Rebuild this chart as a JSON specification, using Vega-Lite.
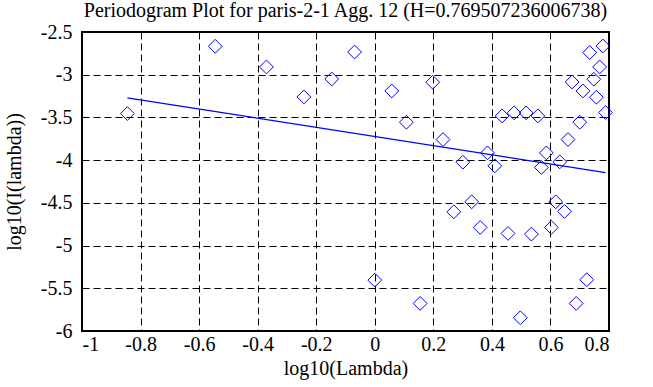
{
  "$schema": "https://vega.github.io/schema/vega-lite/v6.json",
  "width": 527,
  "height": 299,
  "autosize": {"type": "none"},
  "padding": {"left": 82, "top": 32, "right": 44, "bottom": 56},
  "background": "white",
  "title": {
    "text": "Periodogram Plot for paris-2-1 Agg. 12 (H=0.769507236006738)",
    "font": "Liberation Serif",
    "fontSize": 20,
    "fontWeight": "normal",
    "color": "black",
    "offset": 1,
    "anchor": "middle"
  },
  "config": {
    "view": {"stroke": "black", "strokeWidth": 2},
    "axis": {
      "labelFont": "Liberation Serif",
      "labelFontSize": 20,
      "labelColor": "black",
      "titleFont": "Liberation Serif",
      "titleFontSize": 20,
      "titleFontWeight": "normal",
      "titleColor": "black",
      "domain": false,
      "ticks": false,
      "grid": true,
      "gridColor": "black",
      "gridDash": [7, 4],
      "gridWidth": 1,
      "gridOpacity": 1
    }
  },
  "datasets": {
    "points": [
      {"x": -0.845, "y": -3.455},
      {"x": -0.545, "y": -2.667},
      {"x": -0.370, "y": -2.909},
      {"x": -0.242, "y": -3.26},
      {"x": -0.147, "y": -3.05},
      {"x": -0.069, "y": -2.734},
      {"x": 0.0, "y": -5.404},
      {"x": 0.058, "y": -3.19},
      {"x": 0.108, "y": -3.556},
      {"x": 0.155, "y": -5.677},
      {"x": 0.198, "y": -3.088},
      {"x": 0.233, "y": -3.759},
      {"x": 0.270, "y": -4.605},
      {"x": 0.301, "y": -4.024},
      {"x": 0.331, "y": -4.488},
      {"x": 0.360, "y": -4.788},
      {"x": 0.385, "y": -3.915},
      {"x": 0.410, "y": -4.067},
      {"x": 0.435, "y": -3.482},
      {"x": 0.455, "y": -4.858},
      {"x": 0.476, "y": -3.447},
      {"x": 0.497, "y": -5.845},
      {"x": 0.517, "y": -3.447},
      {"x": 0.535, "y": -4.866},
      {"x": 0.557, "y": -3.482},
      {"x": 0.569, "y": -4.086},
      {"x": 0.586, "y": -3.915},
      {"x": 0.603, "y": -4.788},
      {"x": 0.618, "y": -4.488},
      {"x": 0.632, "y": -4.02},
      {"x": 0.648, "y": -4.6},
      {"x": 0.660, "y": -3.759},
      {"x": 0.674, "y": -3.085},
      {"x": 0.688, "y": -5.677},
      {"x": 0.700, "y": -3.556},
      {"x": 0.711, "y": -3.19},
      {"x": 0.724, "y": -5.4},
      {"x": 0.734, "y": -2.741},
      {"x": 0.748, "y": -3.053},
      {"x": 0.757, "y": -3.264},
      {"x": 0.768, "y": -2.909},
      {"x": 0.779, "y": -2.664},
      {"x": 0.788, "y": -3.443}
    ],
    "fit": [
      {"x": -0.845, "y": -3.27},
      {"x": 0.788, "y": -4.145}
    ]
  },
  "layer": [
    {
      "data": {"name": "points"},
      "mark": {"type": "point", "shape": "diamond", "size": 190, "color": "#0000ff", "filled": false, "strokeWidth": 1, "opacity": 1},
      "encoding": {
        "x": {
          "field": "x",
          "type": "quantitative",
          "scale": {"domain": [-1, 0.8], "nice": false, "zero": false},
          "axis": {
            "values": [-1, -0.8, -0.6, -0.4, -0.2, 0, 0.2, 0.4, 0.6, 0.8],
            "labelExpr": "'' + datum.value",
            "labelPadding": 3,
            "titlePadding": 4
          },
          "title": "log10(Lambda)"
        },
        "y": {
          "field": "y",
          "type": "quantitative",
          "scale": {"domain": [-6, -2.5], "nice": false, "zero": false},
          "axis": {
            "values": [-6, -5.5, -5, -4.5, -4, -3.5, -3, -2.5],
            "labelExpr": "'' + datum.value",
            "labelPadding": 10,
            "titlePadding": 16
          },
          "title": "log10(I(lambda))"
        }
      }
    },
    {
      "data": {"name": "fit"},
      "mark": {"type": "line", "color": "#0000ff", "strokeWidth": 1.3},
      "encoding": {
        "x": {"field": "x", "type": "quantitative"},
        "y": {"field": "y", "type": "quantitative"}
      }
    }
  ]
}
